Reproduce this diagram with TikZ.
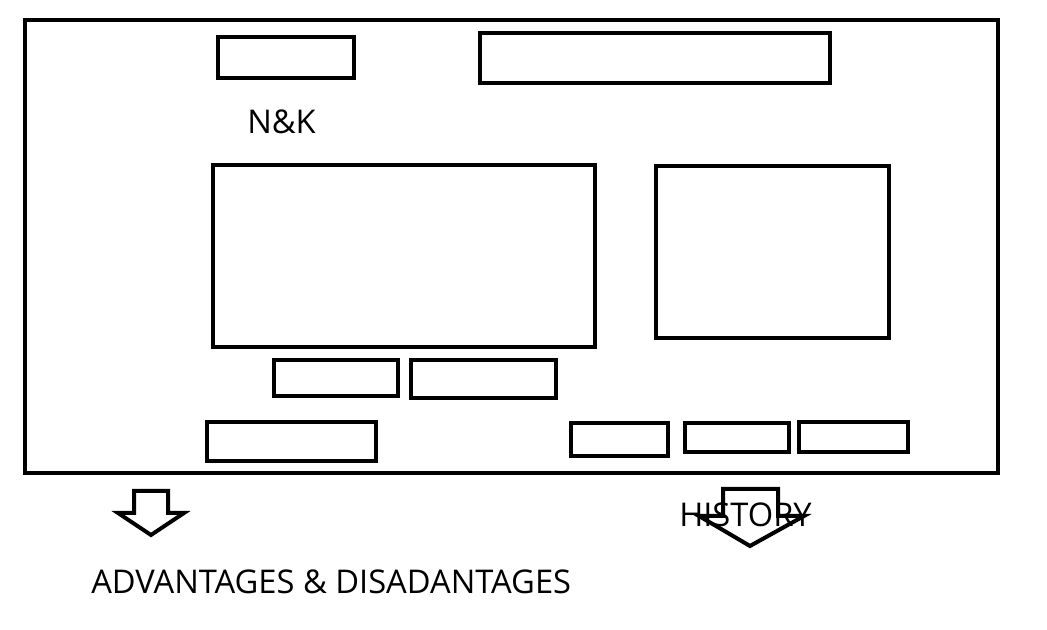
\documentclass[tikz,border=0pt]{standalone}
\usepackage{fontspec}
\setmainfont{Open Sans}
\begin{document}
\begin{tikzpicture}[x=0.75pt,y=-0.75pt,
  box/.style={draw=black,line width=3pt,fill=none},
  lbl/.style={anchor=base west,inner sep=0pt,font=\fontsize{24.5pt}{29pt}\selectfont},
  blockarrow/.style={draw=black,line width=3pt,line join=miter,fill=none}]
\useasboundingbox (0,0) rectangle (1047,630);
\draw[box] (25,20) rectangle (998,473);
\draw[box] (218,37) rectangle (354,78);
\draw[box] (480,33) rectangle (830,83);
\draw[box] (213,165) rectangle (595,347);
\draw[box] (656,166) rectangle (889,338);
\draw[box] (274,360) rectangle (398,396);
\draw[box] (411,360) rectangle (556,398);
\draw[box] (207,422) rectangle (376,461);
\draw[box] (571,423) rectangle (668,456);
\draw[box] (685,423) rectangle (789,452);
\draw[box] (799,422) rectangle (908,452);
\node[lbl] (nk) at (247,134) {N\&K};
\draw[blockarrow] (134,491) -- (168,491) -- (168,513) -- (184,513) -- (151,535) -- (118,513) -- (134,513) -- cycle;
\draw[blockarrow] (723,489) -- (778,489) -- (778,516) -- (804,516) -- (750,546) -- (699,516) -- (723,516) -- cycle;
\node[lbl] (hist) at (679,527) {HISTORY};
\node[lbl] (adv) at (91,594) {ADVANTAGES \& DISADANTAGES};
\end{tikzpicture}
\end{document}
